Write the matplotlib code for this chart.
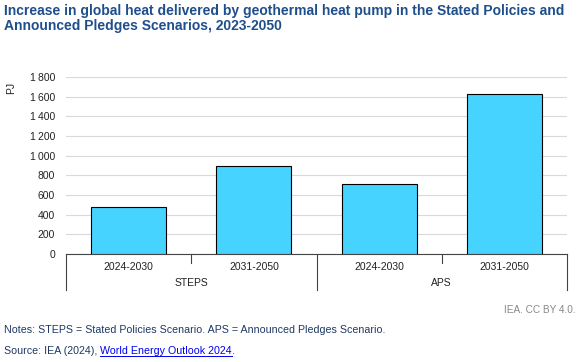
import matplotlib
matplotlib.use("Agg")
import matplotlib.pyplot as plt
from matplotlib.lines import Line2D

plt.rcParams['font.family'] = ['Liberation Sans', 'DejaVu Sans']

# Datos
scenarios = ['STEPS', 'APS']
periods = ['2024-2030', '2031-2050']
values = [480, 893, 712, 1628]  # PJ
yticks = [0, 200, 400, 600, 800, 1000, 1200, 1400, 1600, 1800]

fig = plt.figure(figsize=(5.81, 3.62), dpi=100)
ax = fig.add_axes([66 / 581, 1 - 254 / 362, (567 - 66) / 581, (254 - 77) / 362])

x = list(range(len(values)))
ax.bar(x, values, width=0.6, color='#47D3FF', edgecolor='black', linewidth=0.8, zorder=3)

ax.set_xlim(-0.5, len(values) - 0.5)
ax.set_ylim(0, 1800)
ax.set_yticks(yticks)
ax.set_yticklabels([f"{v:,}".replace(',', '\u2009') if v >= 1000 else str(v) for v in yticks],
                   fontsize=7.5, color='#222222')
ax.tick_params(axis='y', length=0, pad=8)
ax.grid(axis='y', color='#d9d9d9', linewidth=0.8, zorder=0)
for s in ['top', 'right', 'left']:
    ax.spines[s].set_visible(False)
ax.spines['bottom'].set_color('#444444')
ax.spines['bottom'].set_linewidth(0.8)
ax.set_xticks([])
ax.set_ylabel('PJ', fontsize=7.5, color='#222222')
ax.yaxis.set_label_coords(-0.1, 0.94)

# Eje de categorías en dos niveles
trans = ax.get_xaxis_transform()
px = 1 / (254 - 77)  # un píxel en unidades de ejes
for i, p in enumerate(periods * len(scenarios)):
    ax.text(i, -8 * px, p, ha='center', va='top', fontsize=7.5, color='#222222', transform=trans)
for g, s in enumerate(scenarios):
    ax.text(g * 2 + 0.5, -24 * px, s, ha='center', va='top', fontsize=7.5, color='#222222', transform=trans)
for b in [-0.5, 1.5, 3.5]:
    ax.add_line(Line2D([b, b], [0, -36 * px], color='#444444', lw=0.8, transform=trans, clip_on=False))
for b in [0.5, 2.5]:
    ax.add_line(Line2D([b, b], [0, -9 * px], color='#444444', lw=0.8, transform=trans, clip_on=False))

# Títulos y notas
fig.text(4 / 581, 1 - 4 / 362,
         'Increase in global heat delivered by geothermal heat pump in the Stated Policies and\n'
         'Announced Pledges Scenarios, 2023-2050',
         ha='left', va='top', fontsize=10, fontweight='bold', color='#1f4e8c', linespacing=1.1)
fig.text(576 / 581, 1 - 310 / 362, 'IEA. CC BY 4.0.', ha='right', va='center', fontsize=7.2, color='#888888')
fig.text(4 / 581, 1 - 330 / 362, 'Notes: STEPS = Stated Policies Scenario. APS = Announced Pledges Scenario.',
         ha='left', va='center', fontsize=7.7, color='#1f3864')
t1 = fig.text(4 / 581, 1 - 351 / 362, 'Source: IEA (2024), ', ha='left', va='center', fontsize=7.7, color='#1f3864')
fig.canvas.draw()
r = fig.canvas.get_renderer()
bb = t1.get_window_extent(r)
t2 = fig.text(bb.x1 / 581, 1 - 351 / 362, 'World Energy Outlook 2024', ha='left', va='center',
              fontsize=7.7, color='#0000ee')
bb2 = t2.get_window_extent(r)
fig.text(bb2.x1 / 581, 1 - 351 / 362, '.', ha='left', va='center', fontsize=7.7, color='#1f3864')
fig.add_artist(Line2D([bb2.x0 / 581, bb2.x1 / 581], [(bb2.y0 + 0.5) / 362] * 2, color='#0000ee', lw=0.7))

fig.savefig('out.png', dpi=100)
